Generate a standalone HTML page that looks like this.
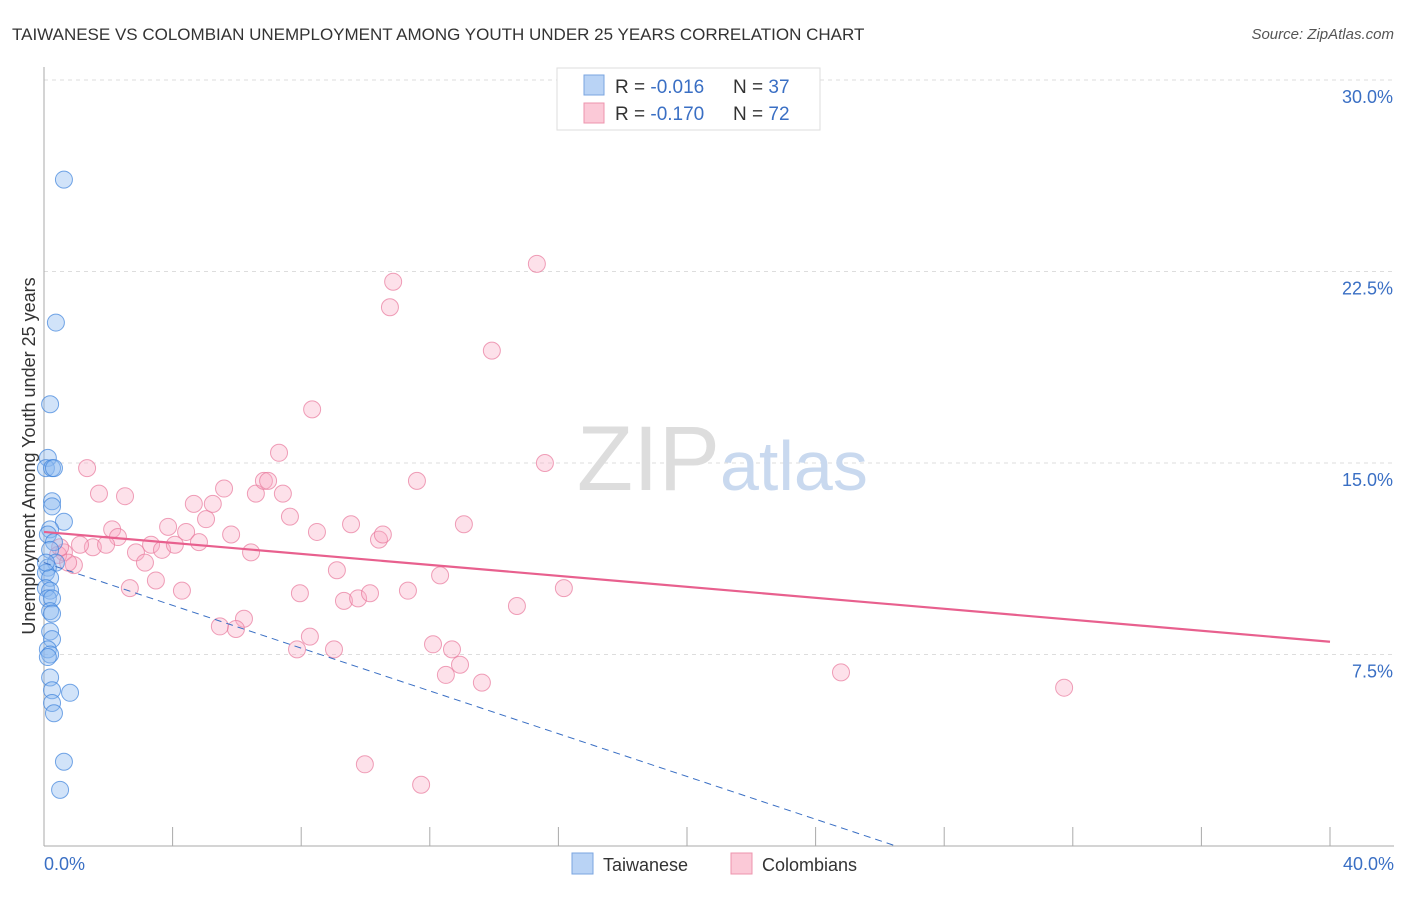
<!DOCTYPE html>
<html><head><meta charset="utf-8"><style>
body{margin:0;background:#fff;font-family:"Liberation Sans",sans-serif}
svg text{font-family:"Liberation Sans",sans-serif}
</style></head><body>
<svg id="c" width="1406" height="892" xmlns="http://www.w3.org/2000/svg">
<text x="12" y="40" font-size="17" fill="#333">TAIWANESE VS COLOMBIAN UNEMPLOYMENT AMONG YOUTH UNDER 25 YEARS CORRELATION CHART</text>
<text x="1394" y="39" font-size="15" fill="#555" font-style="italic" text-anchor="end">Source: ZipAtlas.com</text>
<text x="35" y="456" font-size="18" fill="#333" text-anchor="middle" transform="rotate(-90 35 456)">Unemployment Among Youth under 25 years</text>
<g id="grid"></g>
<text x="720" y="490" font-size="92" fill="#ddd" text-anchor="end" font-family="Liberation Serif">ZIP</text>
<text x="720" y="490" font-size="70" fill="#c9d9ef">atlas</text>
<line x1="44" y1="67" x2="44" y2="846" stroke="#aaa"/>
<line x1="44" y1="846" x2="1394" y2="846" stroke="#aaa"/>
<g id="ticks"></g>
<g id="pts"></g>
<g id="trends"></g>
<text x="44" y="870" font-size="18" fill="#3a6fc4">0.0%</text>
<text x="1394" y="870" font-size="18" fill="#3a6fc4" text-anchor="end">40.0%</text>
<g>
<rect x="557" y="68" width="263" height="62" fill="#fff" stroke="#ddd"/>
<rect x="584" y="75" width="20" height="20" fill="#b9d3f5" stroke="#7aa5e0"/>
<rect x="584" y="103" width="20" height="20" fill="#fbc9d7" stroke="#ee94ad"/>
<text x="615" y="93" font-size="19" fill="#333">R = <tspan fill="#3a6fc4">-0.016</tspan><tspan x="733">N = </tspan><tspan fill="#3a6fc4">37</tspan></text>
<text x="615" y="120" font-size="19" fill="#333">R = <tspan fill="#3a6fc4"> -0.170</tspan><tspan x="733">N = </tspan><tspan fill="#3a6fc4">72</tspan></text>
</g>
<g>
<rect x="572" y="853" width="21" height="21" fill="#b9d3f5" stroke="#7aa5e0"/>
<text x="603" y="871" font-size="18" fill="#333">Taiwanese</text>
<rect x="731" y="853" width="21" height="21" fill="#fbc9d7" stroke="#ee94ad"/>
<text x="762" y="871" font-size="18" fill="#333">Colombians</text>
</g>
</svg>
<script>
const yTicks=[7.5,15,22.5,30];
const yTickLabels=["7.5%","15.0%","22.5%","30.0%"];
const xTicks=[4,8,12,16,20,24,28,32,36,40];
const twX=[0.62,0.37,0.19,0.12,0.06,0.25,0.31,0.25,0.25,0.62,0.19,0.12,0.31,0.19,0.37,0.12,0.06,0.19,0.06,0.19,0.12,0.25,0.19,0.25,0.19,0.25,0.12,0.19,0.12,0.19,0.25,0.81,0.25,0.31,0.62,0.5,0.06];
const twY=[26.1,20.5,17.3,15.2,14.8,14.8,14.8,13.5,13.3,12.7,12.4,12.2,11.9,11.6,11.1,10.9,10.7,10.5,10.1,10.0,9.7,9.7,9.2,9.1,8.4,8.1,7.7,7.5,7.4,6.6,6.1,6.0,5.6,5.2,3.3,2.2,11.1];
const coX=[1.34,1.71,2.52,2.12,2.30,1.52,1.93,1.12,0.62,0.44,0.93,0.75,0.50,2.67,2.86,3.14,3.48,3.33,3.67,3.86,4.07,4.29,4.42,4.66,4.82,5.04,5.25,5.60,5.82,6.22,5.97,5.47,6.44,6.59,6.84,6.97,7.31,7.43,7.65,7.96,7.87,8.27,8.34,8.49,9.02,9.11,9.33,9.55,9.77,10.14,9.98,10.42,10.54,10.76,10.86,11.32,11.60,11.73,12.10,12.32,12.50,12.69,12.94,13.06,13.62,13.93,14.71,15.33,15.58,16.17,24.79,31.73];
const coY=[14.8,13.8,13.7,12.4,12.1,11.7,11.8,11.8,11.5,11.4,11.0,11.1,11.7,10.1,11.5,11.1,10.4,11.8,11.6,12.5,11.8,10.0,12.3,13.4,11.9,12.8,13.4,14.0,12.2,8.9,8.5,8.6,11.5,13.8,14.3,14.3,15.4,13.8,12.9,9.9,7.7,8.2,17.1,12.3,7.7,10.8,9.6,12.6,9.7,9.9,3.2,12.0,12.2,21.1,22.1,10.0,14.3,2.4,7.9,10.6,6.7,7.7,7.1,12.6,6.4,19.4,9.4,22.8,15.0,10.1,6.8,6.2];
const trendCo=[12.3,8.0];
const trendTw=[11.1,0];
const trendTwEndX=26.5;
const X=v=>44+v/40*1286, Y=v=>846-v/30*766;
const NS="http://www.w3.org/2000/svg";
function mk(t,a,p){const e=document.createElementNS(NS,t);for(const k in a)e.setAttribute(k,a[k]);p.appendChild(e);return e;}
const grid=document.getElementById('grid');
yTicks.forEach((v,i)=>{
 const l=mk('line',{x1:44,x2:1394,y1:Y(v),y2:Y(v),stroke:'#ddd','stroke-dasharray':'4,4'},grid);
 
 
 const t=mk('text',{x:1393,y:Y(v)+23,'font-size':18,fill:'#3a6fc4','text-anchor':'end'},grid);
 t.textContent=yTickLabels[i];
 
 
});
const tk=document.getElementById('ticks');
xTicks.forEach(v=>{
 const l=mk('line',{x1:X(v),x2:X(v),y1:827,y2:846,stroke:'#aaa'},tk);
 
 
});
const pts=document.getElementById('pts');
coX.forEach((x,i)=>{
 const c=mk('circle',{cx:X(x),cy:Y(coY[i]),r:8.5,fill:'rgba(248,170,195,0.35)',stroke:'rgba(232,120,155,0.7)','stroke-width':1},pts);
 
 
});
twX.forEach((x,i)=>{
 const c=mk('circle',{cx:X(x),cy:Y(twY[i]),r:8.5,fill:'rgba(140,185,240,0.4)',stroke:'rgba(60,130,220,0.7)','stroke-width':1},pts);
 
 
});
const tr=document.getElementById('trends');
const a=mk('line',{x1:X(0),y1:Y(trendCo[0]),x2:X(40),y2:Y(trendCo[1]),stroke:'#e8608e','stroke-width':2.2},tr);


const b=mk('line',{x1:X(0),y1:Y(trendTw[0]),x2:X(trendTwEndX),y2:Y(trendTw[1]),stroke:'#3a6fc4','stroke-width':1,'stroke-dasharray':'7,5'},tr);


</script>
</body></html>
